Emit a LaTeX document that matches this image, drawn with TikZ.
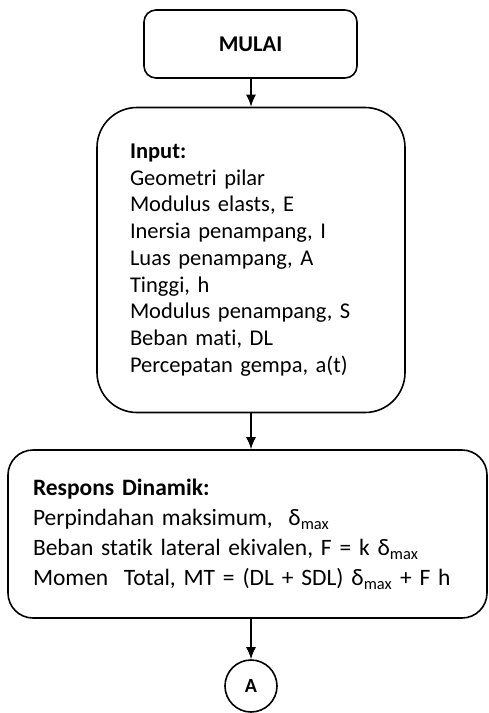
\documentclass[tikz,border=0pt]{standalone}
\usepackage{fontspec}
\setmainfont{Carlito}[WordSpace=0.5, Ligatures=NoCommon]
\usepackage{tikz}
\usetikzlibrary{calc}
\usetikzlibrary{positioning}
\usetikzlibrary{arrows.meta}
\tikzstyle{startnode} = [draw, rounded corners=12, line width=1.6pt, minimum width=213, minimum height=68, font=\fontsize{22.5}{26}\selectfont\bfseries]
\tikzstyle{inputnode} = [draw, rounded corners=40, line width=1.6pt, minimum width=308, minimum height=305, text width=242, inner xsep=33, align=left, font=\fontsize{22.5}{26.7}\selectfont]
\tikzstyle{procnode} = [draw, rounded corners=25, line width=1.6pt, minimum width=479, minimum height=168, text width=429, inner xsep=25, align=left, font=\fontsize{23.5}{30}\selectfont]
\tikzstyle{connode} = [draw, circle, line width=1.6pt, minimum size=52, inner sep=0, font=\fontsize{20}{22}\selectfont\bfseries]
\tikzstyle{flow} = [-{Latex[length=12pt,width=10pt]}, line width=1.6pt]

\begin{document}
\begin{tikzpicture}[x=1pt, y=1pt]
    \useasboundingbox (0,0) rectangle (488,-713);
    \node[startnode] (mulai) at (250.5,-44) {MULAI};
    \node[inputnode] (input) at (251,-260) {\textbf{Input:}\\
        Geometri pilar\\
        Modulus elasts, E\\
        Inersia penampang, I\\
        Luas penampang, A\\
        Tinggi, h\\
        Modulus penampang, S\\
        Beban mati, DL\\
        Percepatan gempa, a(t)};
    \node[procnode] (respons) at (247.5,-534) {\textbf{Respons Dinamik:}\\
        Perpindahan maksimum,~ δ\textsubscript{max}\\
        Beban statik lateral ekivalen, F = k δ\textsubscript{max}\\
        Momen~ Total, MT = (DL + SDL) δ\textsubscript{max} + F h};
    \node[connode] (conA) at (251,-686) {A};

    \draw[flow] (mulai.south -| input.north) -- (input.north);
    \draw[flow] (input.south) -- (input.south |- respons.north);
    \draw[flow] (respons.south -| conA.north) -- (conA.north);
\end{tikzpicture}
\end{document}
